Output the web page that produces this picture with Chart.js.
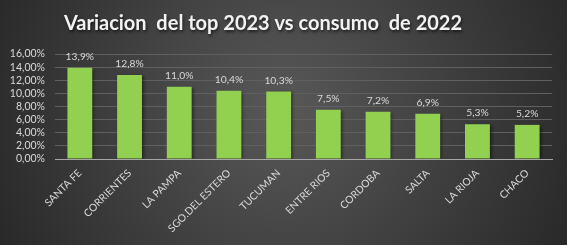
<!DOCTYPE html>
<html><head><meta charset="utf-8">
<script src="https://cdn.jsdelivr.net/npm/chart.js@4"></script>
<style>html,body{margin:0;padding:0;background:#333;} #wrap{width:567px;height:245px;position:relative}</style>
</head><body><div id="wrap"><canvas id="c"></canvas></div>
<script>
const categories = ['SANTA FE','CORRIENTES','LA PAMPA','SGO.DEL ESTERO','TUCUMAN','ENTRE RIOS','CORDOBA','SALTA','LA RIOJA','CHACO'];
const values = [13.9, 12.8, 11.0, 10.4, 10.3, 7.5, 7.2, 6.9, 5.3, 5.2];
const yTickValues = [0, 2, 4, 6, 8, 10, 12, 14, 16];
const titleText = 'Variacion  del top 2023 vs consumo  de 2022';

const fmtTick = v => v.toFixed(2).replace('.', ',') + '%';
const fmtLabel = v => v.toFixed(1).replace('.', ',') + '%';

const bgPlugin = {
  id: 'bg',
  beforeDraw(chart) {
    const {ctx, width, height} = chart;
    ctx.save();
    const g = ctx.createRadialGradient(width*0.5, height*0.45, 10, width*0.5, height*0.45, width*0.62);
    g.addColorStop(0, '#575757');
    g.addColorStop(1, '#232323');
    ctx.fillStyle = g;
    ctx.fillRect(0, 0, width, height);
    ctx.restore();
    const tb = chart.titleBlock;
    if (tb && !tb._patched) {
      const orig = tb.draw.bind(tb);
      tb.draw = function() {
        const c = this.ctx;
        c.save();
        c.translate(-17, 0);
        c.shadowColor = 'rgba(0,0,0,0.6)';
        c.shadowOffsetX = 1; c.shadowOffsetY = 2; c.shadowBlur = 3;
        orig();
        c.restore();
      };
      tb._patched = true;
    }
  }
};

const shadowPlugin = {
  id: 'barShadow',
  beforeDatasetsDraw(chart) {
    const c = chart.ctx;
    c.save();
    c.shadowColor = 'rgba(0,0,0,0.45)';
    c.shadowOffsetX = 2; c.shadowOffsetY = 1; c.shadowBlur = 3;
  },
  afterDatasetsDraw(chart) {
    chart.ctx.restore();
    const c = chart.ctx;
    const meta = chart.getDatasetMeta(0);
    c.save();
    c.font = '10.3px Lato, "Open Sans", sans-serif';
    c.fillStyle = '#d9d9d9';
    c.textAlign = 'center';
    c.textBaseline = 'bottom';
    meta.data.forEach((bar, i) => {
      c.fillText(fmtLabel(values[i]), bar.x, bar.y - 6);
    });
    c.restore();
  }
};

const chart = new Chart(document.getElementById('c'), {
  type: 'bar',
  data: {
    labels: categories,
    datasets: [{
      data: values,
      backgroundColor: '#92d050',
      borderWidth: 0,
      barPercentage: 0.5,
      categoryPercentage: 1.0
    }]
  },
  options: {
    responsive: true,
    maintainAspectRatio: false,
    animation: false,
    devicePixelRatio: 1,
    layout: { padding: { left: 8, right: 15, top: 10, bottom: 0 } },
    plugins: {
      legend: { display: false },
      tooltip: { enabled: false },
      title: {
        display: true,
        text: titleText,
        color: '#f2f2f2',
        font: { family: 'Lato, "Open Sans", sans-serif', size: 20, weight: 'bold' },
        padding: { top: 2, bottom: 18 }
      }
    },
    scales: {
      y: {
        min: 0, max: 16,
        afterBuildTicks(axis) { axis.ticks = yTickValues.map(v => ({value: v})); },
        afterFit(scale) { scale.width = 47; },
        ticks: {
          color: '#d9d9d9',
          font: { family: 'Lato, "Open Sans", sans-serif', size: 10.5 },
          padding: 10,
          autoSkip: false,
          callback: v => fmtTick(v)
        },
        grid: { color: '#606060', lineWidth: 1, drawTicks: false },
        border: { display: false }
      },
      x: {
        afterFit(scale) { scale.height = 86; },
        ticks: {
          color: '#d9d9d9',
          font: { family: 'Lato, "Open Sans", sans-serif', size: 10.3 },
          minRotation: 45, maxRotation: 45,
          autoSkip: false,
          padding: 8
        },
        grid: { display: false, drawTicks: false },
        border: { display: true, color: '#a6a6a6', width: 1 }
      }
    }
  },
  plugins: [bgPlugin, shadowPlugin]
});
</script>
</body></html>
